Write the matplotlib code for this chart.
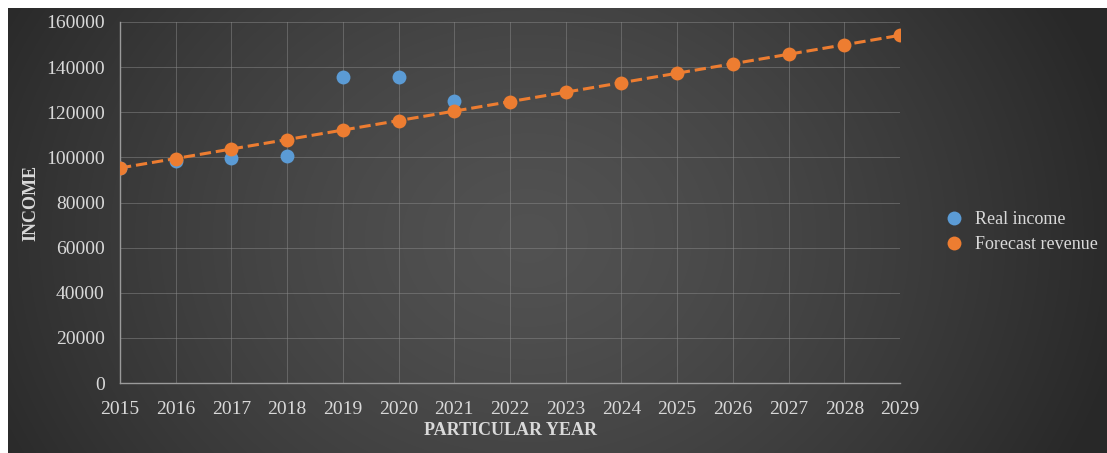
import numpy as np
import matplotlib
matplotlib.use('Agg')
import matplotlib.pyplot as plt

years = [2015, 2016, 2017, 2018, 2019, 2020, 2021, 2022, 2023, 2024, 2025, 2026, 2027, 2028, 2029]
real_years = [2015, 2016, 2017, 2018, 2019, 2020, 2021]
real_income = [95300, 98400, 99700, 100600, 135700, 135800, 125000]
forecast = [95300, 99500, 103700, 107900, 112100, 116300, 120500, 124700,
            128900, 133100, 137300, 141500, 145700, 149900, 154100]

plt.rcParams['font.family'] = ['Liberation Serif', 'DejaVu Serif']
txt = '#d9d9d9'

fig = plt.figure(figsize=(11.07, 4.53), dpi=100)
fig.patch.set_facecolor('white')

# dark radial backdrop
bg = fig.add_axes([8 / 1107, 0, 1 - 8 / 1107, 1 - 8 / 453])
h, w = 445, 1099
yy, xx = np.mgrid[0:h, 0:w]
r = np.sqrt(((xx - 520) / 600.0) ** 2 + ((yy - 230) / 500.0) ** 2)
shade = 0.32 - 0.16 * np.clip(r, 0, 1) ** 1.4
bg.imshow(np.dstack([shade] * 3), aspect='auto', interpolation='bilinear')
bg.set_axis_off()

ax = fig.add_axes([120 / 1107, 1 - 383 / 453, 780 / 1107, 361 / 453])
ax.patch.set_alpha(0)
ax.plot(years, forecast, '--', color='#ED7D31', lw=2.2, zorder=2)
ax.plot(real_years, real_income, 'o', color='#5B9BD5', ms=10, mec='none',
        label='Real income', zorder=3)
ax.plot(years, forecast, 'o', color='#ED7D31', ms=10, mec='none',
        label='Forecast revenue', zorder=4)

ax.set_xlim(2015, 2029)
ax.set_ylim(0, 160000)
ax.set_xticks(years)
ax.set_yticks(range(0, 160001, 20000))
ax.grid(True, color='#8a8a8a', lw=0.7, alpha=0.5)
ax.set_axisbelow(True)
for s in ['top', 'right']:
    ax.spines[s].set_visible(False)
for s in ['left', 'bottom']:
    ax.spines[s].set_color('#9a9a9a')
    ax.spines[s].set_linewidth(1.0)
ax.tick_params(colors=txt, labelsize=14, length=0)
ax.tick_params(axis='x', pad=13)
ax.tick_params(axis='y', pad=11)
ax.set_xlabel('PARTICULAR YEAR', color=txt, fontsize=13, fontweight='bold', labelpad=3)
ax.set_ylabel('INCOME', color=txt, fontsize=13, fontweight='bold', labelpad=5)

leg = ax.legend(loc='center left', bbox_to_anchor=(1.049, 0.418), frameon=False,
                fontsize=13, labelcolor=txt, handlelength=1.0, handletextpad=0.65,
                labelspacing=0.45, borderaxespad=0)

fig.savefig('out.png', dpi=100)
